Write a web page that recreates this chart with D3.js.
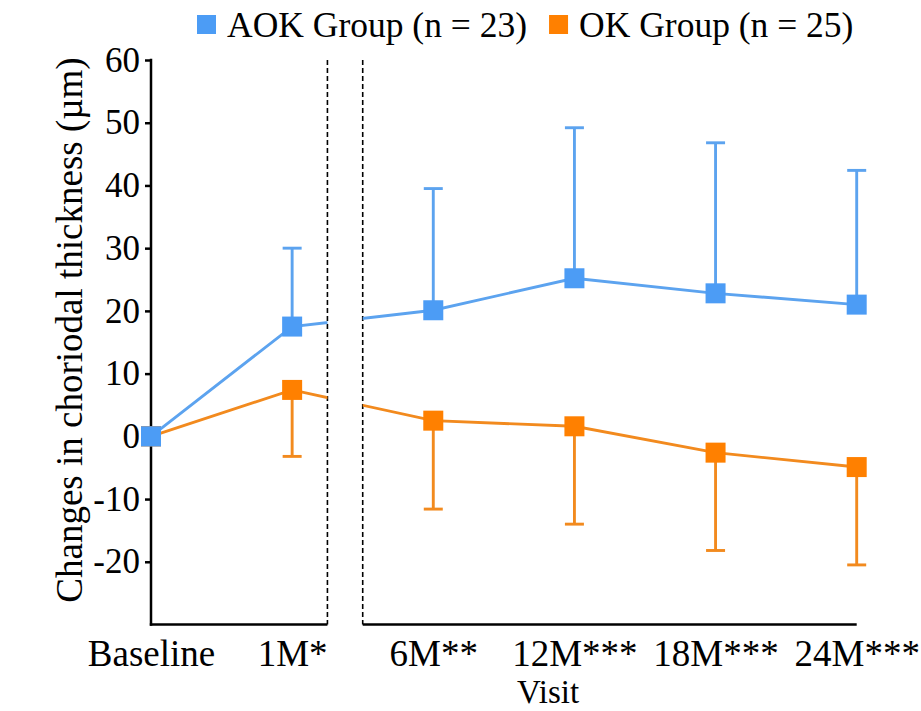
<!DOCTYPE html>
<html>
<head>
<meta charset="utf-8">
<script src="https://cdn.jsdelivr.net/npm/d3@7"></script>
<style>
  html, body { margin: 0; padding: 0; background: #fff; }
  svg { display: block; }
  text { font-family: "Liberation Serif", "Times New Roman", serif; fill: #000; }
</style>
</head>
<body>
<svg id="chart" width="921" height="711"></svg>
<script>
// Visits along the x axis
const categories = ["Baseline", "1M*", "6M**", "12M***", "18M***", "24M***"];
// Mean change in choroidal thickness (µm) and SD per visit
const aokMean = [0, 17.5, 20.1, 25.2, 22.8, 21.0];
const aokSD   = [0, 12.5, 19.4, 24.0, 24.0, 21.4];
const okMean  = [0, 7.4, 2.5, 1.6, -2.6, -4.9];
const okSD    = [0, 10.6, 14.1, 15.6, 15.6, 15.6];
// Y axis tick values
const yTicks = [-20, -10, 0, 10, 20, 30, 40, 50, 60];
// Axis break between 1M and 6M (in visit-index units)
const breakStart = 1.25, breakEnd = 1.5;
const legendLabels = ["AOK Group (n = 23)", "OK Group (n = 25)"];

const W = 921, H = 711;
const blueMarker = "#4C9CF5", blueLine = "#5CA3EF";
const orangeMarker = "#FF8000", orangeLine = "#F28A1E";

const svg = d3.select("#chart");

const x = d3.scaleLinear().domain([0, categories.length - 1]).range([151, 856.7]);
const y = d3.scaleLinear().domain([-30, 60]).range([624.5, 60]);

// Clip regions on either side of the axis break
const defs = svg.append("defs");
defs.append("clipPath").attr("id", "clipLeft").append("rect")
  .attr("x", 0).attr("y", 0).attr("width", x(breakStart)).attr("height", H);
defs.append("clipPath").attr("id", "clipRight").append("rect")
  .attr("x", x(breakEnd)).attr("y", 0).attr("width", W - x(breakEnd)).attr("height", H);

// Y axis
const yAxis = svg.append("g")
  .attr("transform", `translate(${x(0)},0)`)
  .call(d3.axisLeft(y).tickValues(yTicks).tickSize(6).tickPadding(5).tickFormat(d => String(d)));
yAxis.select(".domain").remove();
yAxis.selectAll(".tick line").attr("stroke", "#000").attr("stroke-width", 2.5);
yAxis.selectAll(".tick text").style("font-size", "35px").style("font-family", "Liberation Serif");
svg.append("line")
  .attr("x1", x(0)).attr("x2", x(0))
  .attr("y1", y(60) - 1.2).attr("y2", y(-30) + 1.2)
  .attr("stroke", "#000").attr("stroke-width", 2.5);

// X axis (broken)
const xSegments = [[x(0) - 1.2, x(breakStart)], [x(breakEnd), x(categories.length - 1)]];
svg.selectAll(".xseg").data(xSegments).join("line")
  .attr("class", "xseg")
  .attr("x1", d => d[0]).attr("x2", d => d[1])
  .attr("y1", y(-30)).attr("y2", y(-30))
  .attr("stroke", "#000").attr("stroke-width", 2.5);

const xAxis = svg.append("g")
  .attr("transform", `translate(0,${y(-30)})`)
  .call(d3.axisBottom(x).tickValues(d3.range(categories.length)).tickSize(0).tickPadding(15)
    .tickFormat(i => categories[i]));
xAxis.select(".domain").remove();
xAxis.selectAll(".tick text").style("font-size", "37px").style("font-family", "Liberation Serif");

// Dashed break markers
svg.selectAll(".breakline").data([breakStart, breakEnd]).join("line")
  .attr("class", "breakline")
  .attr("x1", d => x(d)).attr("x2", d => x(d))
  .attr("y1", y(60)).attr("y2", y(-30))
  .attr("stroke", "#000").attr("stroke-width", 1.6)
  .attr("stroke-dasharray", "5,3");

// Series
const series = [
  { mean: aokMean, sd: aokSD, dir: 1, marker: blueMarker, line: blueLine },
  { mean: okMean, sd: okSD, dir: -1, marker: orangeMarker, line: orangeLine }
];

const lineGen = d3.line().x((d, i) => x(i)).y(d => y(d));

series.forEach(s => {
  ["clipLeft", "clipRight"].forEach(clip => {
    svg.append("path")
      .datum(s.mean)
      .attr("d", lineGen)
      .attr("fill", "none")
      .attr("stroke", s.line)
      .attr("stroke-width", 2.9)
      .attr("clip-path", `url(#${clip})`);
  });
});

series.forEach(s => {
  const pts = s.mean.map((m, i) => ({ i, m, e: m + s.dir * s.sd[i] })).filter(d => s.sd[d.i] > 0);
  const g = svg.append("g").attr("stroke", s.line).attr("stroke-width", 2.9);
  g.selectAll(".stem").data(pts).join("line")
    .attr("x1", d => x(d.i)).attr("x2", d => x(d.i))
    .attr("y1", d => y(d.m)).attr("y2", d => y(d.e));
  g.selectAll(".cap").data(pts).join("line")
    .attr("x1", d => x(d.i) - 9.5).attr("x2", d => x(d.i) + 9.5)
    .attr("y1", d => y(d.e)).attr("y2", d => y(d.e));
});

const ms = 20;
series.forEach(s => {
  svg.append("g").selectAll("rect").data(s.mean).join("rect")
    .attr("x", (d, i) => x(i) - ms / 2)
    .attr("y", d => y(d) - ms / 2)
    .attr("width", ms).attr("height", ms)
    .attr("fill", s.marker);
});
// Baseline markers overlap; the blue one sits on top
svg.append("rect")
  .attr("x", x(0) - ms / 2).attr("y", y(aokMean[0]) - ms / 2)
  .attr("width", ms).attr("height", ms).attr("fill", blueMarker);

// Axis titles
svg.append("text")
  .attr("transform", `translate(82,330) rotate(-90)`)
  .attr("text-anchor", "middle")
  .style("font-size", "37px")
  .text("Changes in choriodal thickness (µm)");

svg.append("text")
  .attr("x", 548).attr("y", 703)
  .attr("text-anchor", "middle")
  .style("font-size", "33px")
  .text("Visit");

// Legend
const legend = svg.append("g");
let lx = 197;
[[legendLabels[0], blueMarker], [legendLabels[1], orangeMarker]].forEach(([label, color]) => {
  legend.append("rect").attr("x", lx).attr("y", 15).attr("width", 19).attr("height", 19).attr("fill", color);
  const t = legend.append("text").attr("x", lx + 30).attr("y", 37).style("font-size", "35.5px").text(label);
  lx += 30 + t.node().getComputedTextLength() + 22;
});
</script>
</body>
</html>
